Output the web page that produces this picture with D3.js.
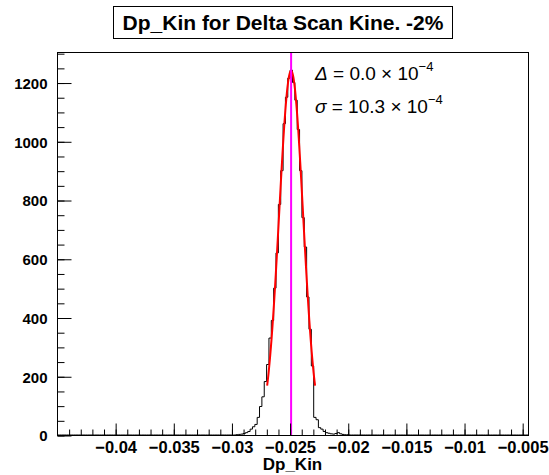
<!DOCTYPE html>
<html>
<head>
<meta charset="utf-8">
<script src="https://cdn.jsdelivr.net/npm/d3@7"></script>
<style>
  body { margin: 0; background: #fff; }
  svg { display: block; font-family: "Liberation Sans", Arial, sans-serif; }
</style>
</head>
<body>
<div id="chart"></div>
<script>
// histogram binning (200 bins over the axis range)
const binLow = -0.045;
const binHigh = -0.0045;
const nBins = 200;
const firstBin = 76;
// counts per bin starting at firstBin
const counts = [
  1, 2, 3, 5, 8, 12, 20, 28, 36, 60,
  97, 130, 182, 240, 330, 390, 500, 620, 785, 900,
  1060, 1150, 1215, 1242, 1200, 1140, 1040, 900, 740, 640,
  470, 360, 235, 60, 52, 25, 20, 12, 8, 6,
  4, 3, 5, 8, 4, 2, 1, 1
];

// gaussian fit parameters
const fitPeak = 1240;
const fitMean = -0.02487;
const fitSigma = 0.00103;
const fitRange = [-0.02693, -0.02281];

const xTicks = [-0.04, -0.035, -0.03, -0.025, -0.02, -0.015, -0.01, -0.005];
const xTickLabels = ["−0.04", "−0.035", "−0.03", "−0.025", "−0.02", "−0.015", "−0.01", "−0.005"];
const yTicks = [0, 200, 400, 600, 800, 1000, 1200];

const title = "Dp_Kin for Delta Scan Kine. -2%";
const xTitle = "Dp_Kin";

const width = 549, height = 475;
const frame = { left: 57, right: 528, top: 52, bottom: 435 };

const svg = d3.select("#chart").append("svg")
  .attr("width", width)
  .attr("height", height);

const x = d3.scaleLinear().domain([binLow, binHigh]).range([frame.left, frame.right]);
const y = d3.scaleLinear().domain([0, 1304]).range([frame.bottom, frame.top]);

// histogram outline as a step path
const binW = (binHigh - binLow) / nBins;
const pts = [[x(binLow), y(0)]];
for (let k = 0; k < nBins; k++) {
  const i = k - firstBin;
  const v = i >= 0 && i < counts.length ? counts[i] : 0;
  pts.push([x(binLow + k * binW), y(v)]);
  pts.push([x(binLow + (k + 1) * binW), y(v)]);
}
svg.append("path")
  .attr("d", d3.line()(pts))
  .attr("fill", "none")
  .attr("stroke", "#000")
  .attr("stroke-width", 1);

// fit curve (100 points like ROOT's TF1)
const fitX = d3.range(101).map(i => fitRange[0] + (fitRange[1] - fitRange[0]) * i / 100);
svg.append("path")
  .attr("d", d3.line()
    .x(d => x(d))
    .y(d => y(fitPeak * Math.exp(-0.5 * ((d - fitMean) / fitSigma) ** 2)))(fitX))
  .attr("fill", "none")
  .attr("stroke", "#ff0000")
  .attr("stroke-width", 2);

// mean marker
svg.append("line")
  .attr("x1", x(fitMean)).attr("x2", x(fitMean))
  .attr("y1", y(0)).attr("y2", frame.top)
  .attr("stroke", "#ff00ff")
  .attr("stroke-width", 2);

// frame
svg.append("rect")
  .attr("x", frame.left + 0.5).attr("y", frame.top + 0.5)
  .attr("width", frame.right - frame.left).attr("height", frame.bottom - frame.top)
  .attr("fill", "none").attr("stroke", "#000");

// x axis: minor + major ticks pointing up
const xMinor = d3.range(-44, -4).map(d => d / 1000);
svg.append("g")
  .attr("transform", `translate(0.5,${frame.bottom + 0.5})`)
  .call(d3.axisBottom(x).tickValues(xMinor).tickSize(-6).tickFormat(""))
  .call(g => g.select(".domain").remove());
svg.append("g")
  .attr("transform", `translate(0.5,${frame.bottom + 0.5})`)
  .call(d3.axisBottom(x).tickValues(xTicks).tickSize(-12)
    .tickFormat((d, i) => xTickLabels[i]))
  .call(g => g.select(".domain").remove())
  .call(g => g.selectAll("text")
    .attr("y", 17).attr("dy", 0)
    .attr("font-family", "Liberation Sans, Arial, sans-serif")
    .attr("font-weight", "bold")
    .attr("font-size", 16.5)
    .attr("fill", "#000"));

// y axis: minor + major ticks pointing right
const yMinor = d3.range(0, 1301, 50);
svg.append("g")
  .attr("transform", `translate(${frame.left + 0.5},0.5)`)
  .call(d3.axisLeft(y).tickValues(yMinor).tickSize(-7).tickFormat(""))
  .call(g => g.select(".domain").remove());
svg.append("g")
  .attr("transform", `translate(${frame.left + 0.5},0.5)`)
  .call(d3.axisLeft(y).tickValues(yTicks).tickSize(-14).tickFormat(d3.format("d")))
  .call(g => g.select(".domain").remove())
  .call(g => g.selectAll("text")
    .attr("x", -10).attr("dy", "0.36em")
    .attr("font-family", "Liberation Sans, Arial, sans-serif")
    .attr("font-weight", "bold")
    .attr("font-size", 15)
    .attr("fill", "#000"));

// axis title
svg.append("text")
  .attr("x", (frame.left + frame.right) / 2)
  .attr("y", 470)
  .attr("text-anchor", "middle")
  .attr("font-weight", "bold")
  .attr("font-size", 17)
  .text(xTitle);

// title box
svg.append("rect")
  .attr("x", 113.5).attr("y", 6.5)
  .attr("width", 339).attr("height", 32)
  .attr("fill", "#fff").attr("stroke", "#000");
svg.append("text")
  .attr("x", 283)
  .attr("y", 30)
  .attr("text-anchor", "middle")
  .attr("font-weight", "bold")
  .attr("font-size", 21)
  .text(title);

// fit results
const notes = [
  { sym: "Δ", val: " = 0.0 × 10", y: 80 },
  { sym: "σ", val: " = 10.3 × 10", y: 113 }
];
notes.forEach(n => {
  const t = svg.append("text")
    .attr("x", 315)
    .attr("y", n.y)
    .attr("font-size", 19);
  t.append("tspan").attr("font-style", "italic").text(n.sym);
  t.append("tspan").text(n.val);
  t.append("tspan").attr("font-size", 13).attr("dy", -9).text("−4");
});
</script>
</body>
</html>
